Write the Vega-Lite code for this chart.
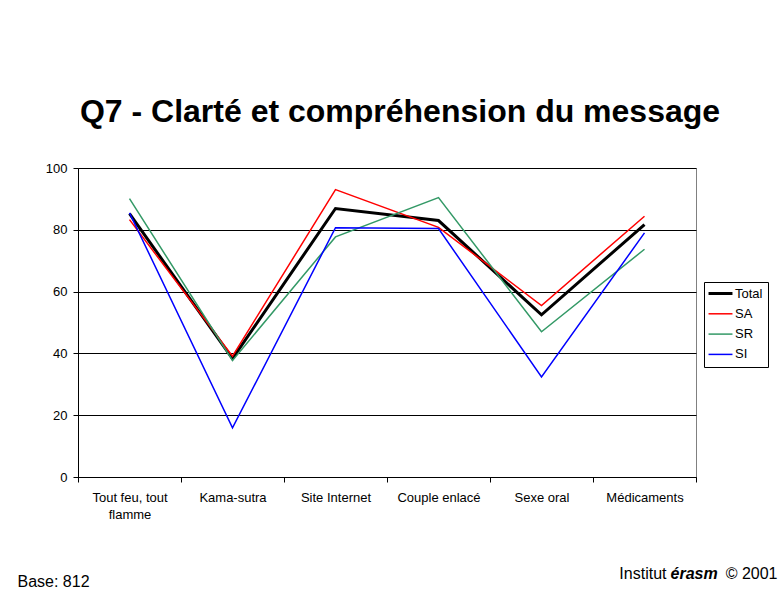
{
  "$schema": "https://vega.github.io/schema/vega-lite/v6.json",
  "width": 618,
  "height": 309,
  "autosize": {"type": "none"},
  "padding": {"left": 78, "top": 168, "right": 86, "bottom": 112},
  "background": "white",
  "config": {
    "font": "Liberation Sans",
    "view": {"stroke": "#808080", "strokeWidth": 1},
    "axis": {"labelFont": "Liberation Sans", "labelColor": "black", "domainColor": "black", "tickColor": "black", "titleFont": "Liberation Sans", "titleColor": "black"},
    "legend": {"orient": "none", "legendX": 626, "legendY": 114, "strokeColor": "black", "fillColor": "white", "padding": 5, "symbolType": "M-1.33,0H1.33", "symbolSize": 324, "symbolOffset": 5, "labelFontSize": 13, "labelFont": "Liberation Sans", "labelColor": "black", "labelOffset": 8, "rowPadding": 6.3}
  },
  "title": {"text": "Q7 - Clarté et compréhension du message", "font": "Liberation Sans", "fontSize": 32, "fontWeight": "bold", "color": "black", "anchor": "middle", "frame": "group", "dx": 13, "baseline": "alphabetic", "offset": 8},
  "data": {"values": [
    {"category": "Tout feu, tout flamme", "series": "Total", "value": 85.2},
    {"category": "Kama-sutra", "series": "Total", "value": 38.3},
    {"category": "Site Internet", "series": "Total", "value": 86.9},
    {"category": "Couple enlacé", "series": "Total", "value": 83.0},
    {"category": "Sexe oral", "series": "Total", "value": 52.5},
    {"category": "Médicaments", "series": "Total", "value": 81.7},
    {"category": "Tout feu, tout flamme", "series": "SA", "value": 83.3},
    {"category": "Kama-sutra", "series": "SA", "value": 39.1},
    {"category": "Site Internet", "series": "SA", "value": 93.0},
    {"category": "Couple enlacé", "series": "SA", "value": 80.8},
    {"category": "Sexe oral", "series": "SA", "value": 55.5},
    {"category": "Médicaments", "series": "SA", "value": 84.4},
    {"category": "Tout feu, tout flamme", "series": "SR", "value": 90.1},
    {"category": "Kama-sutra", "series": "SR", "value": 37.7},
    {"category": "Site Internet", "series": "SR", "value": 77.7},
    {"category": "Couple enlacé", "series": "SR", "value": 90.4},
    {"category": "Sexe oral", "series": "SR", "value": 47.0},
    {"category": "Médicaments", "series": "SR", "value": 73.7},
    {"category": "Tout feu, tout flamme", "series": "SI", "value": 85.5},
    {"category": "Kama-sutra", "series": "SI", "value": 15.9},
    {"category": "Site Internet", "series": "SI", "value": 80.7},
    {"category": "Couple enlacé", "series": "SI", "value": 80.4},
    {"category": "Sexe oral", "series": "SI", "value": 32.4},
    {"category": "Médicaments", "series": "SI", "value": 79.0}
  ]},
  "layer": [
    {
      "mark": {"type": "line"},
      "encoding": {
        "x": {
          "field": "category", "type": "nominal",
          "scale": {"type": "band", "paddingInner": 0, "paddingOuter": 0, "domain": ["Tout feu, tout flamme", "Kama-sutra", "Site Internet", "Couple enlacé", "Sexe oral", "Médicaments"]},
          "axis": {
            "title": "Base: 812", "titleFontSize": 16, "titleFontWeight": "normal", "titleX": -61, "titleY": 109, "titleAlign": "left", "titleBaseline": "alphabetic", "titleAngle": 0,
            "labelAngle": 0, "labelFontSize": 13, "labelPadding": 9, "labelLineHeight": 17, "labelLimit": 0,
            "labelExpr": "datum.label == 'Tout feu, tout flamme' ? ['Tout feu, tout', 'flamme'] : datum.label",
            "tickBand": "extent", "tickSize": 5, "grid": false
          }
        },
        "y": {
          "field": "value", "type": "quantitative",
          "scale": {"domain": [0, 100], "nice": false},
          "axis": {
            "values": [0, 20, 40, 60, 80, 100], "grid": true, "gridColor": "black", "gridWidth": 1, "gridOpacity": 1,
            "tickSize": 5, "labelPadding": 6, "labelFontSize": 13,
            "title": "Institut", "titleAngle": 0, "titleX": 588, "titleY": 410, "titleAlign": "right", "titleBaseline": "alphabetic", "titleFontSize": 16, "titleFontWeight": "normal"
          }
        },
        "color": {
          "field": "series", "type": "nominal",
          "scale": {"domain": ["Total", "SA", "SR", "SI"], "range": ["#000000", "#FF0000", "#339966", "#0000FF"]},
          "legend": {"title": null, "encode": {"symbols": {"update": {"strokeWidth": {"signal": "datum.value == 'Total' ? 3 : 1.5"}}}}}
        },
        "strokeWidth": {"condition": {"test": "datum.series == 'Total'", "value": 3}, "value": 1.5}
      }
    },
    {
      "mark": {"type": "point", "opacity": 0},
      "encoding": {
        "x": {
          "field": "category", "type": "nominal",
          "scale": {"type": "band", "paddingInner": 0, "paddingOuter": 0, "domain": ["Tout feu, tout flamme", "Kama-sutra", "Site Internet", "Couple enlacé", "Sexe oral", "Médicaments"]},
          "axis": {"orient": "top", "domain": false, "ticks": false, "labels": false, "grid": false, "title": "© 2001", "titleX": 699, "titleY": 410, "titleAlign": "right", "titleBaseline": "alphabetic", "titleFontSize": 16, "titleFontWeight": "normal", "titleAngle": 0}
        },
        "y": {
          "field": "value", "type": "quantitative",
          "scale": {"domain": [0, 100], "nice": false},
          "axis": {"orient": "right", "domain": false, "ticks": false, "labels": false, "grid": false, "title": "érasm", "titleAngle": 0, "titleX": -26, "titleY": 410, "titleAlign": "left", "titleBaseline": "alphabetic", "titleFontSize": 16, "titleFontWeight": "bold", "titleFontStyle": "italic"}
        }
      }
    }
  ],
  "resolve": {"scale": {"x": "independent", "y": "independent"}}
}
